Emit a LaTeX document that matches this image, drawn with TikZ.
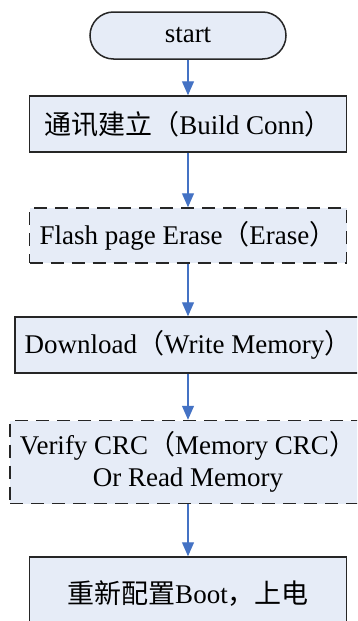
\documentclass[tikz,border=0pt]{standalone}
\usepackage{fontspec}
\setmainfont{Liberation Serif}
\newfontfamily\cjk{Noto Sans CJK SC}
\usetikzlibrary{arrows.meta}
\definecolor{boxfill}{HTML}{E6ECF7}
\definecolor{boxline}{HTML}{262626}
\definecolor{flowblue}{HTML}{4472C4}
\begin{document}
\begin{tikzpicture}[x=1pt,y=-1pt,
  font=\fontsize{27}{32}\selectfont,
  stepbox/.style={draw=boxline, fill=boxfill, line width=1.5pt, rectangle,
    inner sep=0pt, align=center},
  optbox/.style={stepbox, dash pattern=on 13pt off 8pt},
  terminal/.style={stepbox, rounded corners=23.5pt},
  flow/.style={draw=flowblue, line width=1.2pt,
    -{Triangle[length=14pt,width=12pt]}}]
  \useasboundingbox (0,0) rectangle (357,621);
  \clip (0,0) rectangle (357,621);
  \fill[white] (0,0) rectangle (357,621);

  % process steps
  \node[terminal, minimum width=196pt, minimum height=47pt] (start) at (188,35.5) {start};
  \node[stepbox, minimum width=317pt, minimum height=56pt] (conn) at (188,124)
    {{\cjk 通讯建立（}Build Conn{\cjk ）}};
  \node[optbox, minimum width=317pt, minimum height=55pt] (erase) at (188,235.5)
    {Flash page Erase{\cjk （}Erase{\cjk ）}};
  \node[stepbox, minimum width=346pt, minimum height=56pt] (write) at (188,345)
    {Download{\cjk （}Write Memory{\cjk ）}};
  \node[optbox, minimum width=356pt, minimum height=83pt] (verify) at (188,462)
    {Verify CRC{\cjk （}Memory CRC{\cjk ）}\\Or Read Memory};
  \node[stepbox, minimum width=317pt, minimum height=73pt] (boot) at (188,593.5)
    {{\cjk 重新配置}Boot{\cjk ，上电}};

  % connectors
  \draw[flow] (start.south) -- (conn.north);
  \draw[flow] (conn.south) -- (erase.north);
  \draw[flow] (erase.south) -- (write.north);
  \draw[flow] (write.south) -- (verify.north);
  \draw[flow] (verify.south) -- (boot.north);
\end{tikzpicture}
\end{document}
